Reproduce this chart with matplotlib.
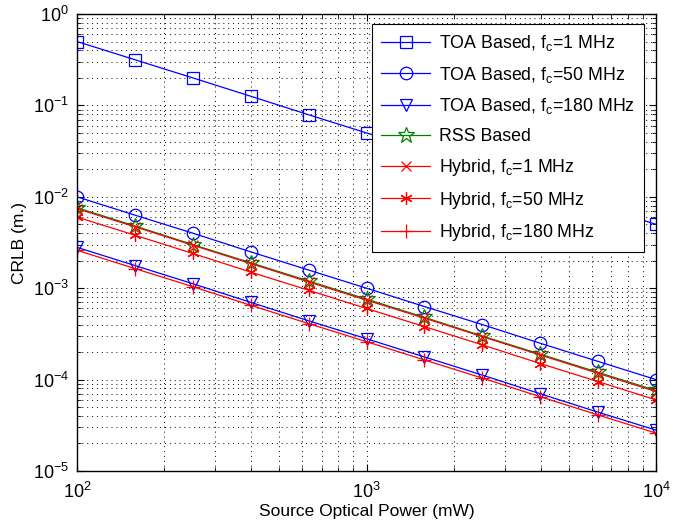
import matplotlib
matplotlib.use("Agg")
import matplotlib.pyplot as plt
from matplotlib.ticker import LogLocator, NullFormatter

plt.rcParams['font.family'] = ['Liberation Sans', 'DejaVu Sans']
plt.rcParams['mathtext.fontset'] = 'custom'
plt.rcParams['mathtext.rm'] = 'Liberation Sans'
plt.rcParams['mathtext.it'] = 'Liberation Sans'

power = [100, 158.5, 251.2, 398.1, 631.0, 1000, 1585, 2512, 3981, 6310, 10000]
toa_1 = [0.5, 0.316, 0.2, 0.126, 0.079, 0.05, 0.0316, 0.02, 0.0126, 0.0079, 0.005]
toa_50 = [0.01, 0.0063, 0.004, 0.0025, 0.00158, 0.001, 0.00063, 0.0004, 0.00025, 0.000158, 0.0001]
toa_180 = [0.0028, 0.00177, 0.00112, 0.0007, 0.00044, 0.00028, 0.000177, 0.000112, 0.00007, 0.000044, 0.000028]
rss = [0.0076, 0.0048, 0.003, 0.0019, 0.0012, 0.00076, 0.00048, 0.0003, 0.00019, 0.00012, 0.000076]
hyb_1 = [0.0074, 0.0047, 0.00295, 0.00186, 0.00117, 0.00074, 0.00047, 0.000295, 0.000186, 0.000117, 0.000074]
hyb_50 = [0.006, 0.0038, 0.0024, 0.0015, 0.00095, 0.0006, 0.00038, 0.00024, 0.00015, 0.000095, 0.00006]
hyb_180 = [0.0026, 0.00164, 0.00104, 0.00065, 0.00041, 0.00026, 0.000164, 0.000104, 0.000065, 0.000041, 0.000026]

labels = ['TOA Based, f$_{\\rm c}$=1 MHz', 'TOA Based, f$_{\\rm c}$=50 MHz',
          'TOA Based, f$_{\\rm c}$=180 MHz', 'RSS Based',
          'Hybrid, f$_{\\rm c}$=1 MHz', 'Hybrid, f$_{\\rm c}$=50 MHz',
          'Hybrid, f$_{\\rm c}$=180 MHz']

W, H = 685, 526
fig = plt.figure(figsize=(6.85, 5.26), dpi=100)
ax = fig.add_axes([77 / W, 1 - 471 / H, 579 / W, 457 / H])

blue = (0, 0, 1)
green = (0, 0.5, 0)
red = (1, 0, 0)
kw = dict(linewidth=0.9, markerfacecolor='none', markeredgewidth=0.9)
ax.plot(power, toa_1, color=blue, marker='s', markersize=8, label=labels[0], **kw)
ax.plot(power, toa_50, color=blue, marker='o', markersize=9, label=labels[1], **kw)
ax.plot(power, toa_180, color=blue, marker='v', markersize=9, label=labels[2], **kw)
ax.plot(power, rss, color=green, marker='*', markersize=12, label=labels[3], **kw)
ax.plot(power, hyb_1, color=red, marker='x', markersize=7, label=labels[4], **kw)
ax.plot(power, hyb_50, color=red, marker=(6, 2, 0), markersize=9, label=labels[5], **kw)
ax.plot(power, hyb_180, color=red, marker='+', markersize=10, label=labels[6], **kw)

ax.set_xscale('log')
ax.set_yscale('log')
ax.set_xlim(100, 10000)
ax.set_ylim(1e-5, 1)
ax.yaxis.set_major_locator(LogLocator(base=10, numticks=10))
ax.yaxis.set_minor_locator(LogLocator(base=10, subs=range(2, 10), numticks=20))
ax.yaxis.set_minor_formatter(NullFormatter())
ax.xaxis.set_minor_formatter(NullFormatter())

ax.grid(True, which='both', linestyle=(0, (1, 4)), color='black', linewidth=0.7)
ax.tick_params(which='both', direction='in', top=True, right=True, labelsize=13)
ax.tick_params(axis='x', which='major', pad=8)
ax.tick_params(axis='y', which='major', pad=6)
ax.tick_params(which='major', length=5)
ax.tick_params(which='minor', length=3)
for s in ax.spines.values():
    s.set_linewidth(1.0)

ax.set_xlabel('Source Optical Power (mW)', fontsize=12.5, labelpad=1)
ax.set_ylabel('CRLB (m.)', fontsize=12.5)

leg = ax.legend(loc='upper right', bbox_to_anchor=(644 / W, 1 - 24 / H),
                bbox_transform=fig.transFigure, fontsize=12.8, frameon=True,
                fancybox=False, edgecolor='black', framealpha=1, borderaxespad=0,
                handlelength=2.75, labelspacing=0.66, borderpad=0.5, handletextpad=0.5)
leg.get_frame().set_linewidth(0.8)

fig.savefig('out.png', dpi=100)
